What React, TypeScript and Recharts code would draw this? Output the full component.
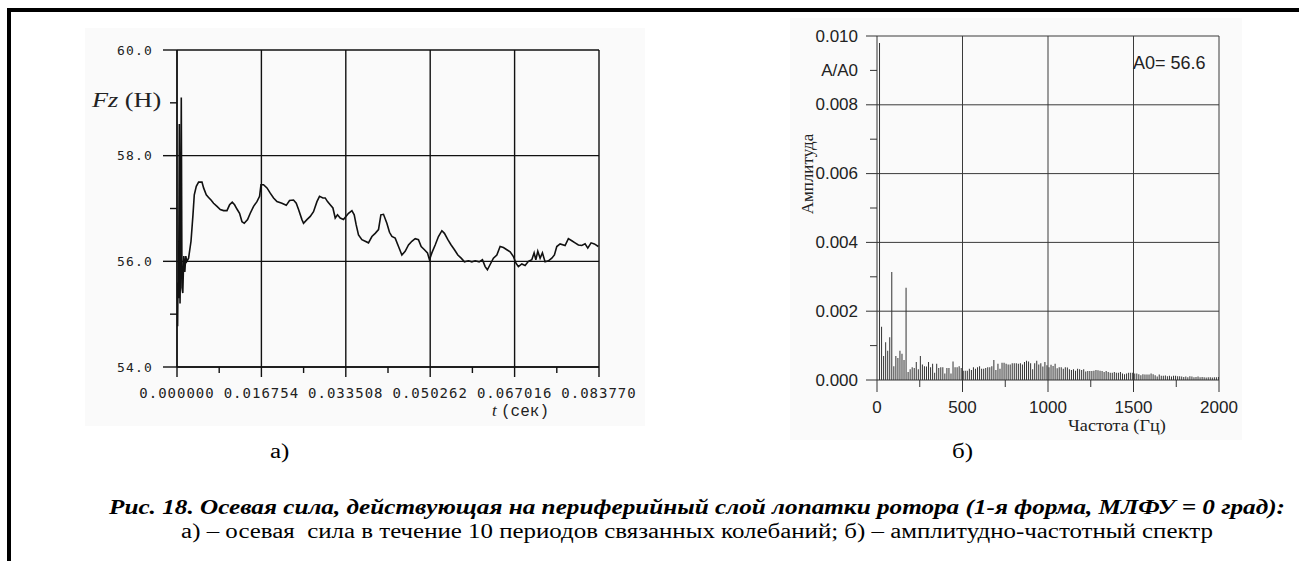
import { LineChart, Line, XAxis, YAxis, CartesianGrid, BarChart, Bar } from "recharts";

// а) axial force over time
const FZ_TIME = [
  0, 0.00012, 0.0002, 0.00032, 0.00046, 0.0006, 0.00071, 0.00085, 0.00099, 0.00115,
  0.00135, 0.00155, 0.00175, 0.00194, 0.0023, 0.00278, 0.00317, 0.00343, 0.00383, 0.00429,
  0.00496, 0.00528, 0.00581, 0.00627, 0.00675, 0.00726, 0.00794, 0.00859, 0.00925, 0.00992,
  0.01044, 0.01097, 0.01143, 0.0119, 0.01242, 0.0129, 0.01335, 0.01401, 0.01454, 0.0152,
  0.01587, 0.01639, 0.01667, 0.01718, 0.01786, 0.01851, 0.01917, 0.01984, 0.02083, 0.02169,
  0.02234, 0.02313, 0.02367, 0.02413, 0.0248, 0.02512, 0.02579, 0.02645, 0.0271, 0.02778,
  0.02829, 0.02897, 0.02942, 0.02988, 0.03041, 0.03095, 0.03141, 0.03186, 0.0324, 0.03305,
  0.03353, 0.03405, 0.03472, 0.03518, 0.03557, 0.03603, 0.0367, 0.03736, 0.03801, 0.03869,
  0.03934, 0.04, 0.04047, 0.04099, 0.04166, 0.04218, 0.04266, 0.04331, 0.04397, 0.04464,
  0.04529, 0.04595, 0.04662, 0.04728, 0.04793, 0.04847, 0.04912, 0.04972, 0.05012, 0.05059,
  0.05125, 0.0519, 0.05258, 0.05309, 0.05377, 0.05442, 0.05508, 0.05575, 0.05641, 0.05706,
  0.05785, 0.05853, 0.05918, 0.05998, 0.06063, 0.06117, 0.06162, 0.06216, 0.06281, 0.06349,
  0.06414, 0.0648, 0.06547, 0.06613, 0.06678, 0.06726, 0.06777, 0.06845, 0.0691, 0.06976,
  0.07043, 0.07089, 0.07123, 0.07162, 0.07208, 0.07254, 0.07307, 0.07373, 0.0744, 0.07492,
  0.07539, 0.07605, 0.07704, 0.07769, 0.07837, 0.07902, 0.07968, 0.08035, 0.08101, 0.08154,
  0.0822, 0.08285, 0.08364,
];
const FZ_VALUE = [
  55.0, 54.77, 55.6, 55.3, 58.6, 55.2, 56.0, 59.1, 55.5, 55.4,
  56.1, 55.8, 56.1, 56.0, 56.06, 56.38, 56.88, 57.26, 57.42, 57.5,
  57.5, 57.39, 57.26, 57.21, 57.16, 57.1, 57.04, 56.98, 56.96, 56.96,
  57.07, 57.12, 57.07, 56.99, 56.91, 56.75, 56.72, 56.79, 56.91, 57.04,
  57.13, 57.23, 57.45, 57.45, 57.39, 57.29, 57.2, 57.13, 57.1, 57.06,
  57.15, 57.16, 57.1, 56.98, 56.79, 56.72, 56.79, 56.85, 56.94, 57.13,
  57.23, 57.2, 57.2, 57.13, 57.07, 57.01, 56.82, 56.88, 56.82, 56.79,
  56.85, 56.91, 56.96, 56.88, 56.69, 56.5, 56.41, 56.38, 56.35, 56.47,
  56.53, 56.6, 56.88, 56.89, 56.72, 56.55, 56.47, 56.44, 56.28, 56.12,
  56.19, 56.31, 56.38, 56.43, 56.41, 56.28, 56.22, 56.16, 56.03, 56.16,
  56.31, 56.47, 56.58, 56.53, 56.41, 56.31, 56.22, 56.12, 56.06, 55.99,
  56.01, 55.99, 56.01, 55.99, 56.03, 55.9, 55.84, 55.94, 56.06, 56.12,
  56.28, 56.26, 56.22, 56.18, 56.09, 55.97, 55.9, 55.95, 55.92, 56.0,
  56.03, 56.16, 56.03, 56.19, 56.06, 56.16, 55.99, 56.01, 56.06, 56.12,
  56.28, 56.33, 56.3, 56.43, 56.39, 56.35, 56.31, 56.3, 56.33, 56.25,
  56.35, 56.33, 56.28,
];
const FZ_Y_TICKS = [54, 55, 56, 57, 58, 59, 60];
const FZ_X_TICKS = [
  0, 0.008377, 0.016754, 0.025131, 0.033508, 0.041885, 0.050262, 0.058639, 0.067016, 0.075393, 0.08377,
];
const FZ_X_GRID = [0, 0.016754, 0.033508, 0.050262, 0.067016, 0.08377];
const FZ_Y_GRID = [54, 56, 58, 60];

// б) amplitude spectrum, one line per 11.94 Hz (1 / 0.08377 s)
const SPEC_STEP = 11.94;
const SPEC_AMP = [
  0.0098, 0.00155, 0.0007, 0.0011, 0.00085, 0.00124, 0.00314, 0.0004, 0.0007, 0.00064,
  0.00085, 0.00076, 0.00058, 0.00268, 0.00023, 0.00031, 0.00037, 0.00035, 0.00052, 0.00031,
  0.0007, 0.00045, 0.0004, 0.00039, 0.00052, 0.00037, 0.00047, 0.00021, 0.00047, 0.00035,
  0.00037, 0.00037, 0.00019, 0.00035, 0.00035, 0.00019, 0.00054, 0.00037, 0.00037, 0.0004,
  0.00035, 0.00027,
  0.00027, 0.00027, 0.00033, 0.00029, 0.00037, 0.00033, 0.00037, 0.0004, 0.00033, 0.00033,
  0.00035, 0.00037, 0.00037, 0.0004, 0.00058, 0.00029, 0.00047, 0.00033, 0.0005, 0.0005,
  0.00047, 0.00045, 0.00045, 0.00049, 0.00049, 0.00049, 0.00047, 0.00049, 0.00045, 0.00052,
  0.00056, 0.00054, 0.00049, 0.00031, 0.00049, 0.00056, 0.00045, 0.00049, 0.00039, 0.00052,
  0.00043, 0.00037,
  0.00044, 0.00041, 0.00047, 0.00034, 0.00037, 0.00037, 0.00033, 0.00037, 0.00036, 0.00031,
  0.00029, 0.00031, 0.00027, 0.00033, 0.00031, 0.00029, 0.00031, 0.00025, 0.00026, 0.00026,
  0.00026, 0.00027, 0.00029, 0.00028, 0.00027, 0.00026, 0.00023, 0.00026, 0.00023, 0.00021,
  0.00021, 0.00023, 0.00021, 0.00021, 0.00023, 0.00019, 0.00017, 0.00019, 0.00021, 0.00021,
  0.00021, 0.00019, 0.00019, 0.00017, 0.00014, 0.00017, 0.00016, 0.00016, 0.00016, 0.00019,
  0.00017, 0.00014, 0.0001, 0.00016, 0.00012, 0.00012, 0.00013, 0.00011, 0.00012, 0.0001,
  0.00012, 0.00012, 0.00011, 0.00011, 0.0001, 0.00009, 0.0001, 0.00008, 0.00011, 0.0001,
  0.00008, 0.00009, 0.0001, 0.00008, 0.00009, 0.00008, 0.00007, 0.00008, 0.00008, 0.00007,
  0.00008, 0.00008, 0.00009,
];
const SPEC_X_TICKS = [0, 250, 500, 750, 1000, 1250, 1500, 1750, 2000];
const SPEC_Y_TICKS = [0, 0.001, 0.002, 0.003, 0.004, 0.005, 0.006, 0.007, 0.008, 0.009, 0.01];
const SPEC_X_GRID = [500, 1000, 1500, 2000];
const SPEC_Y_GRID = [0.002, 0.004, 0.006, 0.008, 0.01];

const fzData = FZ_TIME.map((t, i) => ({ t, v: FZ_VALUE[i] }));
const specData = SPEC_AMP.map((a, i) => ({ f: (i + 1) * SPEC_STEP, a }));

const SERIF = '"Liberation Serif", "Times New Roman", serif';
const SANS = '"Liberation Sans", Arial, sans-serif';
const MONO = '"DejaVu Sans Mono", monospace';

function FzYTick({ x, y, payload }: any) {
  const major = Math.round(payload.value) % 2 === 0;
  return (
    <g>
      <line x1={x - (major ? 14 : 7)} y1={y} x2={x} y2={y} stroke="#111" strokeWidth={1.4} />
      {major && (
        <text x={x - 24} y={y} textAnchor="end" dominantBaseline="central" fontFamily={MONO} fontSize={13} letterSpacing={1.2} fill="#222">
          {payload.value.toFixed(1)}
        </text>
      )}
    </g>
  );
}

function FzXTick({ x, y, payload }: any) {
  const i = FZ_X_TICKS.indexOf(payload.value);
  const major = i % 2 === 0;
  return (
    <g>
      <line x1={x} y1={y} x2={x} y2={y + (major ? 10 : 6)} stroke="#111" strokeWidth={1.4} />
      {major && (
        <text x={x} y={y + 31} textAnchor="middle" fontFamily={MONO} fontSize={14} letterSpacing={1} fill="#222">
          {payload.value.toFixed(6)}
        </text>
      )}
    </g>
  );
}

function SpecYTick({ x, y, payload }: any) {
  const i = SPEC_Y_TICKS.indexOf(payload.value);
  const major = i % 2 === 0;
  const label = major ? payload.value.toFixed(3) : i === 9 ? "A/A0" : "";
  return (
    <g>
      <line x1={x - (major ? 11 : 7)} y1={y} x2={x} y2={y} stroke="#333" strokeWidth={1} />
      {label && (
        <text x={x - 19} y={y} textAnchor="end" dominantBaseline="central" fontFamily={SANS} fontSize={17} fill="#222">
          {label}
        </text>
      )}
    </g>
  );
}

function SpecXTick({ x, y, payload }: any) {
  const i = SPEC_X_TICKS.indexOf(payload.value);
  const major = i % 2 === 0;
  return (
    <g>
      <line x1={x} y1={y} x2={x} y2={y + (major ? 12 : 7)} stroke="#333" strokeWidth={1} />
      {major && (
        <text x={x} y={y + 33} textAnchor="middle" fontFamily={SANS} fontSize={17} fill="#222">
          {payload.value}
        </text>
      )}
    </g>
  );
}

const abs = (left: number, top: number, extra: any = {}) => ({ position: "absolute" as const, left, top, ...extra });
const stretch = { transform: "scaleX(1.25)", transformOrigin: "left center" };

export default function App() {
  return (
    <div style={{ position: "absolute", left: 0, top: 0, width: 1299, height: 561, background: "#fff", overflow: "hidden" }}>
      {/* frame */}
      <div style={abs(7, 8, { width: 1292, height: 4, background: "#000" })} />
      <div style={abs(7, 8, { width: 4, height: 553, background: "#000" })} />

      {/* faint plot backgrounds */}
      <div style={abs(85, 28, { width: 560, height: 398, background: "#fafafa" })} />
      <div style={abs(790, 18, { width: 452, height: 422, background: "#fafafa" })} />

      {/* а) */}
      <div style={abs(80, 20)}>
        <LineChart width={570} height={397} data={fzData} margin={{ top: 30, right: 51, left: 0, bottom: 0 }}>
          <CartesianGrid horizontalValues={FZ_Y_GRID} verticalValues={FZ_X_GRID} stroke="#111" strokeWidth={1.4} />
          <XAxis
            dataKey="t"
            type="number"
            domain={[0, 0.08377]}
            ticks={FZ_X_TICKS}
            interval={0}
            height={50}
            tickSize={0}
            tickMargin={0}
            tick={<FzXTick />}
            axisLine={{ stroke: "#111", strokeWidth: 1.4 }}
            allowDataOverflow
          />
          <YAxis
            type="number"
            domain={[54, 60]}
            ticks={FZ_Y_TICKS}
            interval={0}
            width={97}
            tickSize={0}
            tickMargin={0}
            tick={<FzYTick />}
            axisLine={{ stroke: "#111", strokeWidth: 1.4 }}
            allowDataOverflow
          />
          <Line type="linear" dataKey="v" stroke="#111" strokeWidth={1.6} dot={false} isAnimationActive={false} />
        </LineChart>
      </div>
      <div style={abs(92, 88, { fontFamily: SERIF, fontSize: 21, color: "#222", whiteSpace: "nowrap", ...stretch })}>
        <i>Fz</i> (H)
      </div>
      <div style={abs(492, 401, { fontFamily: SERIF, fontSize: 17, color: "#222", whiteSpace: "nowrap" })}>
        <i>t</i> <span style={{ fontFamily: '"Liberation Mono", "Courier New", monospace', fontSize: 16 }}>(сек)</span>
      </div>
      <div style={abs(270, 440, { fontFamily: SERIF, fontSize: 20, color: "#000", ...stretch })}>а)</div>

      {/* б) */}
      <div style={abs(780, 10)}>
        <BarChart width={460} height={410} data={specData} margin={{ top: 26, right: 21, left: 0, bottom: 0 }}>
          <CartesianGrid horizontalValues={SPEC_Y_GRID} verticalValues={SPEC_X_GRID} stroke="#3a3a3a" strokeWidth={1} />
          <XAxis
            dataKey="f"
            type="number"
            domain={[0, 2000]}
            ticks={SPEC_X_TICKS}
            interval={0}
            height={40}
            tickSize={0}
            tickMargin={0}
            tick={<SpecXTick />}
            axisLine={{ stroke: "#333" }}
            allowDataOverflow
          />
          <YAxis
            type="number"
            domain={[0, 0.01]}
            ticks={SPEC_Y_TICKS}
            interval={0}
            width={97}
            tickSize={0}
            tickMargin={0}
            tick={<SpecYTick />}
            axisLine={{ stroke: "#333" }}
            allowDataOverflow
          />
          <Bar dataKey="a" fill="#333" barSize={1} isAnimationActive={false} />
        </BarChart>
      </div>
      <div
        style={abs(808, 174, {
          fontFamily: SERIF,
          fontSize: 17,
          color: "#222",
          whiteSpace: "nowrap",
          transform: "translate(-50%, -50%) rotate(-90deg)",
        })}
      >
        Амплитуда
      </div>
      <div style={abs(1068, 416, { fontFamily: SERIF, fontSize: 17, color: "#222", whiteSpace: "nowrap", transform: "scaleX(1.07)", transformOrigin: "left center" })}>
        Частота (Гц)
      </div>
      <div style={abs(1133, 53, { fontFamily: SANS, fontSize: 18, color: "#222", whiteSpace: "nowrap" })}>A0= 56.6</div>
      <div style={abs(952, 440, { fontFamily: SERIF, fontSize: 20, color: "#000", ...stretch })}>б)</div>

      {/* caption */}
      <div
        style={abs(0, 496, {
          width: 1394,
          textAlign: "center",
          fontFamily: SERIF,
          fontSize: 20,
          fontWeight: "bold",
          fontStyle: "italic",
          whiteSpace: "nowrap",
          lineHeight: "22px",
          transform: "scaleX(1.26)",
          transformOrigin: "center",
        })}
      >
        Рис. 18. Осевая сила, действующая на периферийный слой лопатки ротора (1-я форма, МЛФУ = 0 град):
      </div>
      <div
        style={abs(0, 520, {
          width: 1394,
          textAlign: "center",
          fontFamily: SERIF,
          fontSize: 20,
          whiteSpace: "pre",
          lineHeight: "22px",
          transform: "scaleX(1.245)",
          transformOrigin: "center",
        })}
      >
        а) – осевая  сила в течение 10 периодов связанных колебаний; б) – амплитудно-частотный спектр
      </div>
    </div>
  );
}
